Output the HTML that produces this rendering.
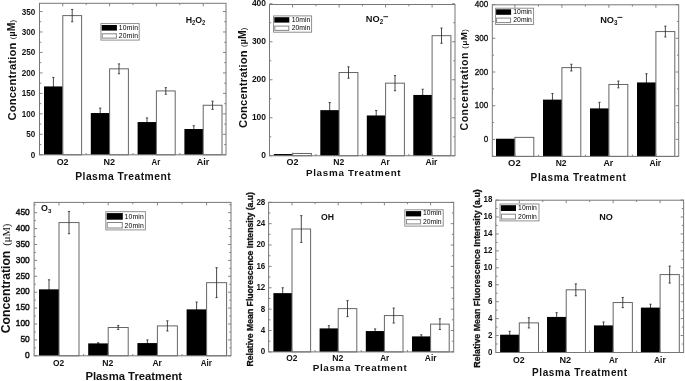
<!DOCTYPE html>
<html><head><meta charset="utf-8"><style>html,body{margin:0;padding:0;background:#fff;overflow:hidden}svg{display:block;filter:grayscale(1)}</style></head>
<body><svg width="685" height="381" viewBox="0 0 685 381">
<style>
text{font-family:"Liberation Sans", sans-serif;fill:#111}
.tl{font-weight:bold;text-anchor:end;dominant-baseline:central}
.cl{font-weight:bold;text-anchor:middle}
.b{font-weight:bold}
.lg{font-size:6.8px;fill:#222}
</style>
<rect width="685" height="381" fill="#fff"/>
<path d="M53.4 77.42V95.44M52.3 77.42H54.5M52.3 95.44H54.5" stroke="#333333" stroke-width="0.9" fill="none"/>
<path d="M100.2 108.13V117.95M99.1 108.13H101.3M99.1 117.95H101.3" stroke="#333333" stroke-width="0.9" fill="none"/>
<path d="M147 117.95V126.14M145.9 117.95H148.1M145.9 126.14H148.1" stroke="#333333" stroke-width="0.9" fill="none"/>
<path d="M193.8 125.73V132.28M192.7 125.73H194.9M192.7 132.28H194.9" stroke="#333333" stroke-width="0.9" fill="none"/>
<rect x="44" y="86.43" width="18.8" height="68.37" fill="#000"/>
<rect x="62.8" y="15.6" width="18.8" height="139.2" fill="#fff" stroke="#666666" stroke-width="1"/>
<rect x="90.8" y="113.04" width="18.8" height="41.76" fill="#000"/>
<rect x="109.6" y="68.83" width="18.8" height="85.97" fill="#fff" stroke="#666666" stroke-width="1"/>
<rect x="137.6" y="122.05" width="18.8" height="32.75" fill="#000"/>
<rect x="156.4" y="90.93" width="18.8" height="63.87" fill="#fff" stroke="#666666" stroke-width="1"/>
<rect x="184.4" y="129.01" width="18.8" height="25.79" fill="#000"/>
<rect x="203.2" y="105.26" width="18.8" height="49.54" fill="#fff" stroke="#666666" stroke-width="1"/>
<path d="M72.2 9.46V21.75M71.1 9.46H73.3M71.1 21.75H73.3" stroke="#333333" stroke-width="0.9" fill="none"/>
<path d="M119 63.91V73.74M117.9 63.91H120.1M117.9 73.74H120.1" stroke="#333333" stroke-width="0.9" fill="none"/>
<path d="M165.8 87.66V94.21M164.7 87.66H166.9M164.7 94.21H166.9" stroke="#333333" stroke-width="0.9" fill="none"/>
<path d="M212.6 101.17V109.36M211.5 101.17H213.7M211.5 109.36H213.7" stroke="#333333" stroke-width="0.9" fill="none"/>
<path d="M39.5 154.8h3M226 154.8h-3M39.5 134.33h3M226 134.33h-3M39.5 113.86h3M226 113.86h-3M39.5 93.39h3M226 93.39h-3M39.5 72.92h3M226 72.92h-3M39.5 52.45h3M226 52.45h-3M39.5 31.98h3M226 31.98h-3M39.5 11.51h3M226 11.51h-3M39.5 144.56h1.8M226 144.56h-1.8M39.5 124.1h1.8M226 124.1h-1.8M39.5 103.63h1.8M226 103.63h-1.8M39.5 83.16h1.8M226 83.16h-1.8M39.5 62.69h1.8M226 62.69h-1.8M39.5 42.22h1.8M226 42.22h-1.8M39.5 21.75h1.8M226 21.75h-1.8M62.8 3.3v3M62.8 154.8v-3M109.6 3.3v3M109.6 154.8v-3M156.4 3.3v3M156.4 154.8v-3M203.2 3.3v3M203.2 154.8v-3M86.2 3.3v1.8M86.2 154.8v-1.8M133 3.3v1.8M133 154.8v-1.8M179.8 3.3v1.8M179.8 154.8v-1.8" stroke="#777777" stroke-width="0.9" fill="none"/>
<rect x="39.5" y="3.3" width="186.5" height="151.5" fill="none" stroke="#777777" stroke-width="1"/>
<text x="35.2" y="154.8" class="tl" textLength="4.5" lengthAdjust="spacingAndGlyphs" style="font-size:8.7px;font-weight:bold">0</text>
<text x="35.2" y="134.33" class="tl" textLength="9" lengthAdjust="spacingAndGlyphs" style="font-size:8.7px;font-weight:bold">50</text>
<text x="35.2" y="113.86" class="tl" textLength="13.5" lengthAdjust="spacingAndGlyphs" style="font-size:8.7px;font-weight:bold">100</text>
<text x="35.2" y="93.39" class="tl" textLength="13.5" lengthAdjust="spacingAndGlyphs" style="font-size:8.7px;font-weight:bold">150</text>
<text x="35.2" y="72.92" class="tl" textLength="13.5" lengthAdjust="spacingAndGlyphs" style="font-size:8.7px;font-weight:bold">200</text>
<text x="35.2" y="52.45" class="tl" textLength="13.5" lengthAdjust="spacingAndGlyphs" style="font-size:8.7px;font-weight:bold">250</text>
<text x="35.2" y="31.98" class="tl" textLength="13.5" lengthAdjust="spacingAndGlyphs" style="font-size:8.7px;font-weight:bold">300</text>
<text x="35.2" y="11.51" class="tl" textLength="13.5" lengthAdjust="spacingAndGlyphs" style="font-size:8.7px;font-weight:bold">350</text>
<path d="M329.7 102.55V117.75M328.6 102.55H330.8M328.6 117.75H330.8" stroke="#333333" stroke-width="0.9" fill="none"/>
<path d="M376.2 110.53V120.41M375.1 110.53H377.3M375.1 120.41H377.3" stroke="#333333" stroke-width="0.9" fill="none"/>
<path d="M422.7 89.25V100.65M421.6 89.25H423.8M421.6 100.65H423.8" stroke="#333333" stroke-width="0.9" fill="none"/>
<rect x="273.8" y="154.04" width="18.8" height="1.71" fill="#000"/>
<rect x="292.6" y="153.47" width="18.8" height="2.28" fill="#fff" stroke="#666666" stroke-width="1"/>
<rect x="320.3" y="110.15" width="18.8" height="45.6" fill="#000"/>
<rect x="339.1" y="72.53" width="18.8" height="83.22" fill="#fff" stroke="#666666" stroke-width="1"/>
<rect x="366.8" y="115.47" width="18.8" height="40.28" fill="#000"/>
<rect x="385.6" y="83.17" width="18.8" height="72.58" fill="#fff" stroke="#666666" stroke-width="1"/>
<rect x="413.3" y="94.95" width="18.8" height="60.8" fill="#000"/>
<rect x="432.1" y="35.67" width="18.8" height="120.08" fill="#fff" stroke="#666666" stroke-width="1"/>
<path d="M348.5 66.83V78.23M347.4 66.83H349.6M347.4 78.23H349.6" stroke="#333333" stroke-width="0.9" fill="none"/>
<path d="M395 75.57V90.77M393.9 75.57H396.1M393.9 90.77H396.1" stroke="#333333" stroke-width="0.9" fill="none"/>
<path d="M441.5 28.07V43.27M440.4 28.07H442.6M440.4 43.27H442.6" stroke="#333333" stroke-width="0.9" fill="none"/>
<path d="M269.5 155.75h3M455 155.75h-3M269.5 117.75h3M455 117.75h-3M269.5 79.75h3M455 79.75h-3M269.5 41.75h3M455 41.75h-3M269.5 3.75h3M455 3.75h-3M269.5 136.75h1.8M455 136.75h-1.8M269.5 98.75h1.8M455 98.75h-1.8M269.5 60.75h1.8M455 60.75h-1.8M269.5 22.75h1.8M455 22.75h-1.8M292.6 4.5v3M292.6 155.75v-3M339.1 4.5v3M339.1 155.75v-3M385.6 4.5v3M385.6 155.75v-3M432.1 4.5v3M432.1 155.75v-3M315.85 4.5v1.8M315.85 155.75v-1.8M362.35 4.5v1.8M362.35 155.75v-1.8M408.85 4.5v1.8M408.85 155.75v-1.8" stroke="#777777" stroke-width="0.9" fill="none"/>
<rect x="269.5" y="4.5" width="185.5" height="151.25" fill="none" stroke="#777777" stroke-width="1"/>
<text x="266" y="155.35" class="tl" textLength="4.7" lengthAdjust="spacingAndGlyphs" style="font-size:8.7px;font-weight:bold">0</text>
<text x="266" y="117.35" class="tl" textLength="14.1" lengthAdjust="spacingAndGlyphs" style="font-size:8.7px;font-weight:bold">100</text>
<text x="266" y="79.35" class="tl" textLength="14.1" lengthAdjust="spacingAndGlyphs" style="font-size:8.7px;font-weight:bold">200</text>
<text x="266" y="41.35" class="tl" textLength="14.1" lengthAdjust="spacingAndGlyphs" style="font-size:8.7px;font-weight:bold">300</text>
<text x="266" y="3.35" class="tl" textLength="14.1" lengthAdjust="spacingAndGlyphs" style="font-size:8.7px;font-weight:bold">400</text>
<path d="M552.45 93.57V105.7M551.35 93.57H553.55M551.35 105.7H553.55" stroke="#333333" stroke-width="0.9" fill="none"/>
<path d="M599.45 102.33V114.46M598.35 102.33H600.55M598.35 114.46H600.55" stroke="#333333" stroke-width="0.9" fill="none"/>
<path d="M646.45 73.69V91.21M645.35 73.69H647.55M645.35 91.21H647.55" stroke="#333333" stroke-width="0.9" fill="none"/>
<rect x="496" y="138.73" width="18.9" height="17.67" fill="#000"/>
<rect x="514.9" y="137.38" width="18.9" height="19.02" fill="#fff" stroke="#666666" stroke-width="1"/>
<rect x="543" y="99.63" width="18.9" height="56.77" fill="#000"/>
<rect x="561.9" y="67.62" width="18.9" height="88.78" fill="#fff" stroke="#666666" stroke-width="1"/>
<rect x="590" y="108.4" width="18.9" height="48" fill="#000"/>
<rect x="608.9" y="84.47" width="18.9" height="71.93" fill="#fff" stroke="#666666" stroke-width="1"/>
<rect x="637" y="82.45" width="18.9" height="73.95" fill="#000"/>
<rect x="655.9" y="31.56" width="18.9" height="124.84" fill="#fff" stroke="#666666" stroke-width="1"/>
<path d="M571.35 64.25V70.99M570.25 64.25H572.45M570.25 70.99H572.45" stroke="#333333" stroke-width="0.9" fill="none"/>
<path d="M618.35 81.1V87.84M617.25 81.1H619.45M617.25 87.84H619.45" stroke="#333333" stroke-width="0.9" fill="none"/>
<path d="M665.35 26.17V36.95M664.25 26.17H666.45M664.25 36.95H666.45" stroke="#333333" stroke-width="0.9" fill="none"/>
<path d="M492.3 139.4h3M678.7 139.4h-3M492.3 105.7h3M678.7 105.7h-3M492.3 72h3M678.7 72h-3M492.3 38.3h3M678.7 38.3h-3M492.3 4.6h3M678.7 4.6h-3M492.3 156.25h1.8M678.7 156.25h-1.8M492.3 122.55h1.8M678.7 122.55h-1.8M492.3 88.85h1.8M678.7 88.85h-1.8M492.3 55.15h1.8M678.7 55.15h-1.8M492.3 21.45h1.8M678.7 21.45h-1.8M514.9 4.8v3M514.9 156.4v-3M561.9 4.8v3M561.9 156.4v-3M608.9 4.8v3M608.9 156.4v-3M655.9 4.8v3M655.9 156.4v-3M538.4 4.8v1.8M538.4 156.4v-1.8M585.4 4.8v1.8M585.4 156.4v-1.8M632.4 4.8v1.8M632.4 156.4v-1.8" stroke="#777777" stroke-width="0.9" fill="none"/>
<rect x="492.3" y="4.8" width="186.4" height="151.6" fill="none" stroke="#777777" stroke-width="1"/>
<text x="488.2" y="139.1" class="tl" textLength="4.5" lengthAdjust="spacingAndGlyphs" style="font-size:9.2px;font-weight:normal;stroke:#111;stroke-width:0.35px">0</text>
<text x="488.2" y="105.4" class="tl" textLength="13.5" lengthAdjust="spacingAndGlyphs" style="font-size:9.2px;font-weight:normal;stroke:#111;stroke-width:0.35px">100</text>
<text x="488.2" y="71.7" class="tl" textLength="13.5" lengthAdjust="spacingAndGlyphs" style="font-size:9.2px;font-weight:normal;stroke:#111;stroke-width:0.35px">200</text>
<text x="488.2" y="38" class="tl" textLength="13.5" lengthAdjust="spacingAndGlyphs" style="font-size:9.2px;font-weight:normal;stroke:#111;stroke-width:0.35px">300</text>
<text x="488.2" y="4.3" class="tl" textLength="13.5" lengthAdjust="spacingAndGlyphs" style="font-size:9.2px;font-weight:normal;stroke:#111;stroke-width:0.35px">400</text>
<path d="M49 279.8V298.88M47.9 279.8H50.1M47.9 298.88H50.1" stroke="#333333" stroke-width="0.9" fill="none"/>
<path d="M98.2 342.76V344.03M97.1 342.76H99.3M97.1 344.03H99.3" stroke="#333333" stroke-width="0.9" fill="none"/>
<path d="M147.4 339.9V346.26M146.3 339.9H148.5M146.3 346.26H148.5" stroke="#333333" stroke-width="0.9" fill="none"/>
<path d="M196.6 302.06V316.69M195.5 302.06H197.7M195.5 316.69H197.7" stroke="#333333" stroke-width="0.9" fill="none"/>
<rect x="39" y="289.34" width="20" height="66.46" fill="#000"/>
<rect x="59" y="222.56" width="20" height="133.24" fill="#fff" stroke="#666666" stroke-width="1"/>
<rect x="88.2" y="343.4" width="20" height="12.4" fill="#000"/>
<rect x="108.2" y="327.5" width="20" height="28.3" fill="#fff" stroke="#666666" stroke-width="1"/>
<rect x="137.4" y="343.08" width="20" height="12.72" fill="#000"/>
<rect x="157.4" y="325.91" width="20" height="29.89" fill="#fff" stroke="#666666" stroke-width="1"/>
<rect x="186.6" y="309.37" width="20" height="46.43" fill="#000"/>
<rect x="206.6" y="282.66" width="20" height="73.14" fill="#fff" stroke="#666666" stroke-width="1"/>
<path d="M69 211.43V233.69M67.9 211.43H70.1M67.9 233.69H70.1" stroke="#333333" stroke-width="0.9" fill="none"/>
<path d="M118.2 325.59V329.41M117.1 325.59H119.3M117.1 329.41H119.3" stroke="#333333" stroke-width="0.9" fill="none"/>
<path d="M167.4 320.82V331M166.3 320.82H168.5M166.3 331H168.5" stroke="#333333" stroke-width="0.9" fill="none"/>
<path d="M216.6 267.71V297.61M215.5 267.71H217.7M215.5 297.61H217.7" stroke="#333333" stroke-width="0.9" fill="none"/>
<path d="M34.1 355.8h3M231 355.8h-3M34.1 339.9h3M231 339.9h-3M34.1 324h3M231 324h-3M34.1 308.1h3M231 308.1h-3M34.1 292.2h3M231 292.2h-3M34.1 276.3h3M231 276.3h-3M34.1 260.4h3M231 260.4h-3M34.1 244.5h3M231 244.5h-3M34.1 228.6h3M231 228.6h-3M34.1 212.7h3M231 212.7h-3M34.1 347.85h1.8M231 347.85h-1.8M34.1 331.95h1.8M231 331.95h-1.8M34.1 316.05h1.8M231 316.05h-1.8M34.1 300.15h1.8M231 300.15h-1.8M34.1 284.25h1.8M231 284.25h-1.8M34.1 268.35h1.8M231 268.35h-1.8M34.1 252.45h1.8M231 252.45h-1.8M34.1 236.55h1.8M231 236.55h-1.8M34.1 220.65h1.8M231 220.65h-1.8M34.1 204.75h1.8M231 204.75h-1.8M59 202.4v3M59 355.8v-3M108.2 202.4v3M108.2 355.8v-3M157.4 202.4v3M157.4 355.8v-3M206.6 202.4v3M206.6 355.8v-3M83.6 202.4v1.8M83.6 355.8v-1.8M132.8 202.4v1.8M132.8 355.8v-1.8M182 202.4v1.8M182 355.8v-1.8" stroke="#777777" stroke-width="0.9" fill="none"/>
<rect x="34.1" y="202.4" width="196.9" height="153.4" fill="none" stroke="#777777" stroke-width="1"/>
<text x="29.7" y="354.5" class="tl" textLength="4.65" lengthAdjust="spacingAndGlyphs" style="font-size:9.7px;font-weight:normal;stroke:#111;stroke-width:0.5px">0</text>
<text x="29.7" y="338.6" class="tl" textLength="9.3" lengthAdjust="spacingAndGlyphs" style="font-size:9.7px;font-weight:normal;stroke:#111;stroke-width:0.5px">50</text>
<text x="29.7" y="322.7" class="tl" textLength="13.95" lengthAdjust="spacingAndGlyphs" style="font-size:9.7px;font-weight:normal;stroke:#111;stroke-width:0.5px">100</text>
<text x="29.7" y="306.8" class="tl" textLength="13.95" lengthAdjust="spacingAndGlyphs" style="font-size:9.7px;font-weight:normal;stroke:#111;stroke-width:0.5px">150</text>
<text x="29.7" y="290.9" class="tl" textLength="13.95" lengthAdjust="spacingAndGlyphs" style="font-size:9.7px;font-weight:normal;stroke:#111;stroke-width:0.5px">200</text>
<text x="29.7" y="275" class="tl" textLength="13.95" lengthAdjust="spacingAndGlyphs" style="font-size:9.7px;font-weight:normal;stroke:#111;stroke-width:0.5px">250</text>
<text x="29.7" y="259.1" class="tl" textLength="13.95" lengthAdjust="spacingAndGlyphs" style="font-size:9.7px;font-weight:normal;stroke:#111;stroke-width:0.5px">300</text>
<text x="29.7" y="243.2" class="tl" textLength="13.95" lengthAdjust="spacingAndGlyphs" style="font-size:9.7px;font-weight:normal;stroke:#111;stroke-width:0.5px">350</text>
<text x="29.7" y="227.3" class="tl" textLength="13.95" lengthAdjust="spacingAndGlyphs" style="font-size:9.7px;font-weight:normal;stroke:#111;stroke-width:0.5px">400</text>
<text x="29.7" y="211.4" class="tl" textLength="13.95" lengthAdjust="spacingAndGlyphs" style="font-size:9.7px;font-weight:normal;stroke:#111;stroke-width:0.5px">450</text>
<path d="M282.7 287.78V298.47M281.6 287.78H283.8M281.6 298.47H283.8" stroke="#333333" stroke-width="0.9" fill="none"/>
<path d="M328.9 325.72V331.06M327.8 325.72H330M327.8 331.06H330" stroke="#333333" stroke-width="0.9" fill="none"/>
<path d="M375.1 328.93V333.2M374 328.93H376.2M374 333.2H376.2" stroke="#333333" stroke-width="0.9" fill="none"/>
<path d="M421.3 334.8V338.01M420.2 334.8H422.4M420.2 338.01H422.4" stroke="#333333" stroke-width="0.9" fill="none"/>
<rect x="273.4" y="293.13" width="18.6" height="58.77" fill="#000"/>
<rect x="292" y="229.01" width="18.6" height="122.89" fill="#fff" stroke="#666666" stroke-width="1"/>
<rect x="319.6" y="328.39" width="18.6" height="23.51" fill="#000"/>
<rect x="338.2" y="308.62" width="18.6" height="43.28" fill="#fff" stroke="#666666" stroke-width="1"/>
<rect x="365.8" y="331.06" width="18.6" height="20.84" fill="#000"/>
<rect x="384.4" y="315.57" width="18.6" height="36.33" fill="#fff" stroke="#666666" stroke-width="1"/>
<rect x="412" y="336.41" width="18.6" height="15.49" fill="#000"/>
<rect x="430.6" y="324.12" width="18.6" height="27.78" fill="#fff" stroke="#666666" stroke-width="1"/>
<path d="M301.3 215.65V242.37M300.2 215.65H302.4M300.2 242.37H302.4" stroke="#333333" stroke-width="0.9" fill="none"/>
<path d="M347.5 300.61V316.64M346.4 300.61H348.6M346.4 316.64H348.6" stroke="#333333" stroke-width="0.9" fill="none"/>
<path d="M393.7 308.09V323.05M392.6 308.09H394.8M392.6 323.05H394.8" stroke="#333333" stroke-width="0.9" fill="none"/>
<path d="M439.9 318.77V329.46M438.8 318.77H441M438.8 329.46H441" stroke="#333333" stroke-width="0.9" fill="none"/>
<path d="M268.6 351.9h3M453.7 351.9h-3M268.6 330.53h3M453.7 330.53h-3M268.6 309.16h3M453.7 309.16h-3M268.6 287.78h3M453.7 287.78h-3M268.6 266.41h3M453.7 266.41h-3M268.6 245.04h3M453.7 245.04h-3M268.6 223.67h3M453.7 223.67h-3M268.6 202.3h3M453.7 202.3h-3M268.6 341.21h1.8M453.7 341.21h-1.8M268.6 319.84h1.8M453.7 319.84h-1.8M268.6 298.47h1.8M453.7 298.47h-1.8M268.6 277.1h1.8M453.7 277.1h-1.8M268.6 255.73h1.8M453.7 255.73h-1.8M268.6 234.35h1.8M453.7 234.35h-1.8M268.6 212.98h1.8M453.7 212.98h-1.8M292 202.4v3M292 351.9v-3M338.2 202.4v3M338.2 351.9v-3M384.4 202.4v3M384.4 351.9v-3M430.6 202.4v3M430.6 351.9v-3M315.1 202.4v1.8M315.1 351.9v-1.8M361.3 202.4v1.8M361.3 351.9v-1.8M407.5 202.4v1.8M407.5 351.9v-1.8" stroke="#777777" stroke-width="0.9" fill="none"/>
<rect x="268.6" y="202.4" width="185.1" height="149.5" fill="none" stroke="#777777" stroke-width="1"/>
<text x="265.3" y="351.3" class="tl" textLength="4.45" lengthAdjust="spacingAndGlyphs" style="font-size:8.9px;font-weight:bold">0</text>
<text x="265.3" y="329.93" class="tl" textLength="4.45" lengthAdjust="spacingAndGlyphs" style="font-size:8.9px;font-weight:bold">4</text>
<text x="265.3" y="308.56" class="tl" textLength="4.45" lengthAdjust="spacingAndGlyphs" style="font-size:8.9px;font-weight:bold">8</text>
<text x="265.3" y="287.18" class="tl" textLength="8.9" lengthAdjust="spacingAndGlyphs" style="font-size:8.9px;font-weight:bold">12</text>
<text x="265.3" y="265.81" class="tl" textLength="8.9" lengthAdjust="spacingAndGlyphs" style="font-size:8.9px;font-weight:bold">16</text>
<text x="265.3" y="244.44" class="tl" textLength="8.9" lengthAdjust="spacingAndGlyphs" style="font-size:8.9px;font-weight:bold">20</text>
<text x="265.3" y="223.07" class="tl" textLength="8.9" lengthAdjust="spacingAndGlyphs" style="font-size:8.9px;font-weight:bold">24</text>
<text x="265.3" y="201.7" class="tl" textLength="8.9" lengthAdjust="spacingAndGlyphs" style="font-size:8.9px;font-weight:bold">28</text>
<path d="M509.7 331.32V338.1M508.6 331.32H510.8M508.6 338.1H510.8" stroke="#333333" stroke-width="0.9" fill="none"/>
<path d="M556.63 312.69V321.16M555.53 312.69H557.73M555.53 321.16H557.73" stroke="#333333" stroke-width="0.9" fill="none"/>
<path d="M603.56 322.01V328.78M602.46 322.01H604.66M602.46 328.78H604.66" stroke="#333333" stroke-width="0.9" fill="none"/>
<path d="M650.49 304.22V311M649.39 304.22H651.59M649.39 311H651.59" stroke="#333333" stroke-width="0.9" fill="none"/>
<rect x="500.1" y="334.71" width="19.2" height="17.79" fill="#000"/>
<rect x="519.3" y="322.86" width="19.2" height="29.64" fill="#fff" stroke="#666666" stroke-width="1"/>
<rect x="547.03" y="316.93" width="19.2" height="35.57" fill="#000"/>
<rect x="566.23" y="289.82" width="19.2" height="62.68" fill="#fff" stroke="#666666" stroke-width="1"/>
<rect x="593.96" y="325.4" width="19.2" height="27.1" fill="#000"/>
<rect x="613.16" y="302.53" width="19.2" height="49.97" fill="#fff" stroke="#666666" stroke-width="1"/>
<rect x="640.89" y="307.61" width="19.2" height="44.89" fill="#000"/>
<rect x="660.09" y="274.58" width="19.2" height="77.92" fill="#fff" stroke="#666666" stroke-width="1"/>
<path d="M528.9 317.77V327.94M527.8 317.77H530M527.8 327.94H530" stroke="#333333" stroke-width="0.9" fill="none"/>
<path d="M575.83 283.89V295.75M574.73 283.89H576.93M574.73 295.75H576.93" stroke="#333333" stroke-width="0.9" fill="none"/>
<path d="M622.76 297.44V307.61M621.66 297.44H623.86M621.66 307.61H623.86" stroke="#333333" stroke-width="0.9" fill="none"/>
<path d="M669.69 266.11V283.05M668.59 266.11H670.79M668.59 283.05H670.79" stroke="#333333" stroke-width="0.9" fill="none"/>
<path d="M495.8 352.5h3M683.6 352.5h-3M495.8 335.56h3M683.6 335.56h-3M495.8 318.62h3M683.6 318.62h-3M495.8 301.68h3M683.6 301.68h-3M495.8 284.74h3M683.6 284.74h-3M495.8 267.8h3M683.6 267.8h-3M495.8 250.86h3M683.6 250.86h-3M495.8 233.92h3M683.6 233.92h-3M495.8 216.98h3M683.6 216.98h-3M495.8 200.04h3M683.6 200.04h-3M495.8 344.03h1.8M683.6 344.03h-1.8M495.8 327.09h1.8M683.6 327.09h-1.8M495.8 310.15h1.8M683.6 310.15h-1.8M495.8 293.21h1.8M683.6 293.21h-1.8M495.8 276.27h1.8M683.6 276.27h-1.8M495.8 259.33h1.8M683.6 259.33h-1.8M495.8 242.39h1.8M683.6 242.39h-1.8M495.8 225.45h1.8M683.6 225.45h-1.8M495.8 208.51h1.8M683.6 208.51h-1.8M519.3 200.2v3M519.3 352.5v-3M566.23 200.2v3M566.23 352.5v-3M613.16 200.2v3M613.16 352.5v-3M660.09 200.2v3M660.09 352.5v-3M542.76 200.2v1.8M542.76 352.5v-1.8M589.69 200.2v1.8M589.69 352.5v-1.8M636.62 200.2v1.8M636.62 352.5v-1.8" stroke="#777777" stroke-width="0.9" fill="none"/>
<rect x="495.8" y="200.2" width="187.8" height="152.3" fill="none" stroke="#777777" stroke-width="1"/>
<text x="492.5" y="351.6" class="tl" textLength="4.45" lengthAdjust="spacingAndGlyphs" style="font-size:8.6px;font-weight:bold">0</text>
<text x="492.5" y="334.66" class="tl" textLength="4.45" lengthAdjust="spacingAndGlyphs" style="font-size:8.6px;font-weight:bold">2</text>
<text x="492.5" y="317.72" class="tl" textLength="4.45" lengthAdjust="spacingAndGlyphs" style="font-size:8.6px;font-weight:bold">4</text>
<text x="492.5" y="300.78" class="tl" textLength="4.45" lengthAdjust="spacingAndGlyphs" style="font-size:8.6px;font-weight:bold">6</text>
<text x="492.5" y="283.84" class="tl" textLength="4.45" lengthAdjust="spacingAndGlyphs" style="font-size:8.6px;font-weight:bold">8</text>
<text x="492.5" y="266.9" class="tl" textLength="8.9" lengthAdjust="spacingAndGlyphs" style="font-size:8.6px;font-weight:bold">10</text>
<text x="492.5" y="249.96" class="tl" textLength="8.9" lengthAdjust="spacingAndGlyphs" style="font-size:8.6px;font-weight:bold">12</text>
<text x="492.5" y="233.02" class="tl" textLength="8.9" lengthAdjust="spacingAndGlyphs" style="font-size:8.6px;font-weight:bold">14</text>
<text x="492.5" y="216.08" class="tl" textLength="8.9" lengthAdjust="spacingAndGlyphs" style="font-size:8.6px;font-weight:bold">16</text>
<text x="492.5" y="199.14" class="tl" textLength="8.9" lengthAdjust="spacingAndGlyphs" style="font-size:8.6px;font-weight:bold">18</text>
<text x="56.7" y="165" textLength="11.9" lengthAdjust="spacingAndGlyphs" style="font-size:8.8px;font-weight:bold;">O2</text>
<text x="103.5" y="165" textLength="11.5" lengthAdjust="spacingAndGlyphs" style="font-size:8.8px;font-weight:bold;">N2</text>
<text x="151.5" y="165" textLength="8.7" lengthAdjust="spacingAndGlyphs" style="font-size:8.8px;font-weight:bold;">Ar</text>
<text x="196.7" y="165" textLength="12.6" lengthAdjust="spacingAndGlyphs" style="font-size:8.8px;font-weight:bold;">Air</text>
<text x="286.5" y="164.7" textLength="11.9" lengthAdjust="spacingAndGlyphs" style="font-size:8.6px;font-weight:bold;">O2</text>
<text x="333.2" y="164.7" textLength="11" lengthAdjust="spacingAndGlyphs" style="font-size:8.6px;font-weight:bold;">N2</text>
<text x="380.5" y="164.7" textLength="9.2" lengthAdjust="spacingAndGlyphs" style="font-size:8.6px;font-weight:bold;">Ar</text>
<text x="425.5" y="164.7" textLength="11.9" lengthAdjust="spacingAndGlyphs" style="font-size:8.6px;font-weight:bold;">Air</text>
<text x="508.1" y="166.2" textLength="12.6" lengthAdjust="spacingAndGlyphs" style="font-size:8.6px;font-weight:bold;">O2</text>
<text x="555.7" y="166.2" textLength="10.9" lengthAdjust="spacingAndGlyphs" style="font-size:8.6px;font-weight:bold;">N2</text>
<text x="603.5" y="166.2" textLength="9.8" lengthAdjust="spacingAndGlyphs" style="font-size:8.6px;font-weight:bold;">Ar</text>
<text x="649.4" y="166.2" textLength="11.7" lengthAdjust="spacingAndGlyphs" style="font-size:8.6px;font-weight:bold;">Air</text>
<text x="53" y="366" textLength="11.2" lengthAdjust="spacingAndGlyphs" style="font-size:8.6px;font-weight:bold;">O2</text>
<text x="102.2" y="366" textLength="11.1" lengthAdjust="spacingAndGlyphs" style="font-size:8.6px;font-weight:bold;">N2</text>
<text x="152.4" y="366" textLength="9.5" lengthAdjust="spacingAndGlyphs" style="font-size:8.6px;font-weight:bold;">Ar</text>
<text x="200.7" y="366" textLength="11.2" lengthAdjust="spacingAndGlyphs" style="font-size:8.6px;font-weight:bold;">Air</text>
<text x="286.2" y="361.2" textLength="11.2" lengthAdjust="spacingAndGlyphs" style="font-size:8.4px;font-weight:bold;">O2</text>
<text x="332.2" y="361.2" textLength="11.1" lengthAdjust="spacingAndGlyphs" style="font-size:8.4px;font-weight:bold;">N2</text>
<text x="380.2" y="361.2" textLength="9" lengthAdjust="spacingAndGlyphs" style="font-size:8.4px;font-weight:bold;">Ar</text>
<text x="424.8" y="361.2" textLength="11.7" lengthAdjust="spacingAndGlyphs" style="font-size:8.4px;font-weight:bold;">Air</text>
<text x="513" y="362.6" textLength="11.7" lengthAdjust="spacingAndGlyphs" style="font-size:8.4px;font-weight:bold;">O2</text>
<text x="559.5" y="362.6" textLength="11.7" lengthAdjust="spacingAndGlyphs" style="font-size:8.4px;font-weight:bold;">N2</text>
<text x="608.9" y="362.6" textLength="9" lengthAdjust="spacingAndGlyphs" style="font-size:8.4px;font-weight:bold;">Ar</text>
<text x="654" y="362.6" textLength="11.7" lengthAdjust="spacingAndGlyphs" style="font-size:8.4px;font-weight:bold;">Air</text>
<text x="75.2" y="180.4" textLength="95.4" lengthAdjust="spacing" style="font-size:10.3px;font-weight:bold;">Plasma Treatment</text>
<text x="305.9" y="175.7" textLength="94.7" lengthAdjust="spacing" style="font-size:9.8px;font-weight:bold;">Plasma Treatment</text>
<text x="530.6" y="180.5" textLength="95.3" lengthAdjust="spacing" style="font-size:10.0px;font-weight:bold;">Plasma Treatment</text>
<text x="85.4" y="379.6" textLength="96.7" lengthAdjust="spacing" style="font-size:11.3px;font-weight:bold;">Plasma Treatment</text>
<text x="312.7" y="370.7" textLength="94" lengthAdjust="spacing" style="font-size:9.9px;font-weight:bold;">Plasma Treatment</text>
<text x="531.9" y="375.5" textLength="95.3" lengthAdjust="spacing" style="font-size:10.0px;font-weight:bold;">Plasma Treatment</text>
<text transform="translate(16,120.5) rotate(-90)" textLength="100.7" lengthAdjust="spacing" style="font-weight:bold"><tspan style="font-size:11.2px">Concentration </tspan><tspan dy="-1.2" style="font-weight:normal;font-size:8.06px">(</tspan><tspan dy="0.4" style="font-size:8.29px">μ</tspan><tspan style="font-size:10.30px">M</tspan><tspan dy="-0.4" style="font-weight:normal;font-size:8.06px">)</tspan></text>
<text transform="translate(247,128.1) rotate(-90)" textLength="100.5" lengthAdjust="spacing" style="font-weight:bold"><tspan style="font-size:11.2px">Concentration </tspan><tspan dy="-1.2" style="font-weight:normal;font-size:8.06px">(</tspan><tspan dy="0.4" style="font-size:8.29px">μ</tspan><tspan style="font-size:10.30px">M</tspan><tspan dy="-0.4" style="font-weight:normal;font-size:8.06px">)</tspan></text>
<text transform="translate(468,130.5) rotate(-90)" textLength="101.4" lengthAdjust="spacing" style="font-weight:bold"><tspan style="font-size:10.6px">Concentration </tspan><tspan dy="-1.2" style="font-weight:normal;font-size:7.63px">(</tspan><tspan dy="0.4" style="font-size:7.84px">μ</tspan><tspan style="font-size:9.75px">M</tspan><tspan dy="-0.4" style="font-weight:normal;font-size:7.63px">)</tspan></text>
<text transform="translate(10.3,333.3) rotate(-90)" textLength="82.6" lengthAdjust="spacingAndGlyphs" style="font-weight:bold;font-size:12.4px">Concentration</text>
<text transform="translate(9.9,245.8) rotate(-90)" textLength="22.2" lengthAdjust="spacingAndGlyphs" style="font-family:'Liberation Serif',serif;font-size:10.8px">(μM)</text>
<text transform="translate(252.9,366.5) rotate(-90)" textLength="174.5" lengthAdjust="spacingAndGlyphs" style="font-weight:bold;font-size:9.0px;stroke:#111;stroke-width:0.3px">Relative Mean Fluorescence Intensity (a.u)</text>
<text transform="translate(479.9,367.7) rotate(-90)" textLength="178.5" lengthAdjust="spacingAndGlyphs" style="font-weight:bold;font-size:9.2px;stroke:#111;stroke-width:0.3px">Relative Mean Fluorescence Intensity (a.u)</text>
<text x="185.7" y="22.5" textLength="19.6" lengthAdjust="spacingAndGlyphs" style="font-weight:bold;font-size:9.8px">H<tspan style="font-size:6.5px" dy="2.1">2</tspan><tspan dy="-2.1">O</tspan><tspan style="font-size:6.5px" dy="2.1">2</tspan></text>
<text x="365.8" y="21.7" textLength="17.3" lengthAdjust="spacingAndGlyphs" style="font-weight:bold;font-size:9.5px">NO<tspan style="font-size:6.4px" dy="1.9">2</tspan></text>
<path d="M383.3 16.7H388.1" stroke="#111" stroke-width="0.95"/>
<text x="600.2" y="22.7" textLength="17.3" lengthAdjust="spacingAndGlyphs" style="font-weight:bold;font-size:9.5px">NO<tspan style="font-size:6.4px" dy="1.9">3</tspan></text>
<path d="M617.4 17.4H622.3" stroke="#111" stroke-width="0.95"/>
<text x="41.1" y="210.9" style="font-weight:bold;font-size:8.9px">O<tspan style="font-size:6.2px" dy="2.5">3</tspan></text>
<text x="321.0" y="219.8" textLength="13" lengthAdjust="spacingAndGlyphs" style="font-weight:bold;font-size:8.9px">OH</text>
<text x="599.2" y="219.6" textLength="13.6" lengthAdjust="spacingAndGlyphs" style="font-weight:bold;font-size:9px">NO</text>
<rect x="100.9" y="23.6" width="38.3" height="16.5" fill="#fff" stroke="#858585" stroke-width="0.9"/>
<rect x="101.7" y="25" width="15.2" height="5.6" fill="#000"/>
<rect x="102.2" y="33.8" width="14.2" height="4.3" fill="#fff" stroke="#858585" stroke-width="1"/>
<text x="118.7" y="29.9" textLength="19.4" lengthAdjust="spacing" style="font-size:6.8px;fill:#000;">10min</text>
<text x="118.7" y="38.3" textLength="19.4" lengthAdjust="spacing" style="font-size:6.8px;fill:#000;">20min</text>
<rect x="273.6" y="15.9" width="38" height="16.3" fill="#fff" stroke="#858585" stroke-width="0.9"/>
<rect x="274.3" y="17.2" width="15" height="5.4" fill="#000"/>
<rect x="274.8" y="26.1" width="14" height="4.3" fill="#fff" stroke="#858585" stroke-width="1"/>
<text x="291.7" y="21.5" textLength="18.6" lengthAdjust="spacing" style="font-size:6.8px;fill:#000;">10min</text>
<text x="291.7" y="29.8" textLength="18.6" lengthAdjust="spacing" style="font-size:6.8px;fill:#000;">20min</text>
<rect x="495.6" y="8.2" width="38" height="16.3" fill="#fff" stroke="#858585" stroke-width="0.9"/>
<rect x="496.1" y="9.3" width="15" height="5.5" fill="#000"/>
<rect x="496.6" y="18.1" width="14" height="4.5" fill="#fff" stroke="#858585" stroke-width="1"/>
<text x="513.3" y="14.1" textLength="18.6" lengthAdjust="spacing" style="font-size:6.8px;fill:#000;">10min</text>
<text x="513.3" y="22.4" textLength="18.6" lengthAdjust="spacing" style="font-size:6.8px;fill:#000;">20min</text>
<rect x="105.8" y="211.7" width="39.6" height="18.2" fill="#fff" stroke="#858585" stroke-width="0.9"/>
<rect x="106.7" y="213.1" width="16.1" height="6.6" fill="#000"/>
<rect x="107.2" y="222.5" width="15.1" height="5.5" fill="#fff" stroke="#858585" stroke-width="1"/>
<text x="124.6" y="219.2" textLength="19.1" lengthAdjust="spacing" style="font-size:6.8px;fill:#000;">10min</text>
<text x="124.6" y="228" textLength="19.1" lengthAdjust="spacing" style="font-size:6.8px;fill:#000;">20min</text>
<rect x="404.8" y="209.8" width="38.4" height="16.3" fill="#fff" stroke="#858585" stroke-width="0.9"/>
<rect x="405.9" y="211.1" width="15.2" height="5.3" fill="#000"/>
<rect x="406.4" y="219.6" width="14.2" height="4.3" fill="#fff" stroke="#858585" stroke-width="1"/>
<text x="422.9" y="215.3" textLength="18.6" lengthAdjust="spacing" style="font-size:6.8px;fill:#000;">10min</text>
<text x="422.9" y="223.8" textLength="18.6" lengthAdjust="spacing" style="font-size:6.8px;fill:#000;">20min</text>
<rect x="500" y="204" width="39" height="16.9" fill="#fff" stroke="#858585" stroke-width="0.9"/>
<rect x="500.9" y="205.2" width="15.1" height="5.8" fill="#000"/>
<rect x="501.4" y="214.2" width="14.1" height="4.8" fill="#fff" stroke="#858585" stroke-width="1"/>
<text x="518.1" y="210.3" textLength="18.8" lengthAdjust="spacing" style="font-size:6.8px;fill:#000;">10min</text>
<text x="518.1" y="218.5" textLength="18.8" lengthAdjust="spacing" style="font-size:6.8px;fill:#000;">20min</text>
</svg></body></html>
